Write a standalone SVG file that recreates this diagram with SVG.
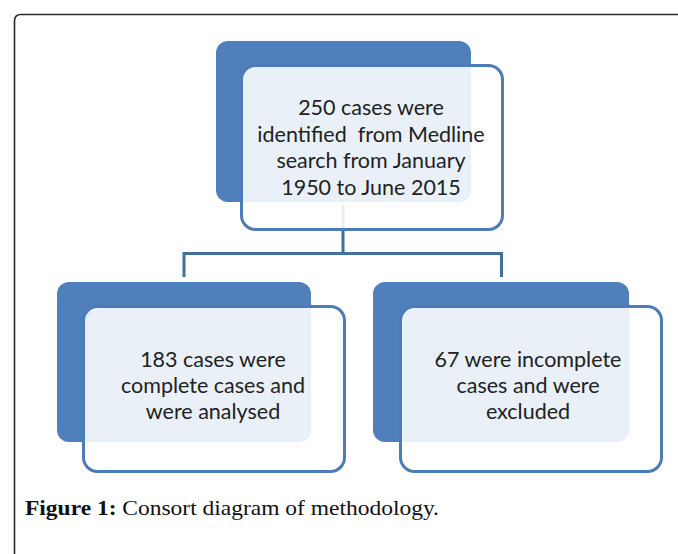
<svg xmlns="http://www.w3.org/2000/svg" width="678" height="554" viewBox="0 0 678 554">
<style>
.back{fill:#4f80bc;}
.front{fill:#ffffff;fill-opacity:0.88;stroke:#4d7bb6;stroke-width:3;}
.lbl{font-family:Lato,"Open Sans",sans-serif;font-size:21.5px;fill:#222;text-anchor:middle;}
.conn{fill:none;stroke:#41709f;stroke-width:3;}
.cap{font-family:"Liberation Serif",serif;font-size:22px;fill:#111;}
</style>
<rect x="0" y="0" width="678" height="554" fill="#fff"/>
<path d="M14.5 554 V21 Q14.5 14.5 21 14.5 H678" fill="none" stroke="#2a2a2a" stroke-width="1.6"/>
<g id="connectors">
<path class="conn" d="M343 205 V253.5 M184 277 V253.5 H501.5 V277"/>
</g>
<g id="node-top">
<rect class="back" x="216" y="41" width="255" height="161" rx="12"/>
<rect class="front" x="241.5" y="65.5" width="261" height="164" rx="14"/>
<text class="lbl" x="371" y="115">250 cases were</text>
<text class="lbl" x="371" y="142">identified&#160; from Medline</text>
<text class="lbl" x="371" y="168">search from January</text>
<text class="lbl" x="371" y="195">1950 to June 2015</text>
</g>
<g id="node-left">
<rect class="back" x="57" y="282" width="254" height="160" rx="12"/>
<rect class="front" x="83.5" y="306.5" width="261" height="165" rx="14"/>
<text class="lbl" x="213" y="367">183 cases were</text>
<text class="lbl" x="213" y="393">complete cases and</text>
<text class="lbl" x="213" y="419">were analysed</text>
</g>
<g id="node-right">
<rect class="back" x="373" y="282" width="256" height="160" rx="12"/>
<rect class="front" x="400.5" y="306.5" width="261" height="165" rx="14"/>
<text class="lbl" x="528" y="367">67 were incomplete</text>
<text class="lbl" x="528" y="393">cases and were</text>
<text class="lbl" x="528" y="419">excluded</text>
</g>
<text class="cap" x="25" y="515" textLength="414" lengthAdjust="spacingAndGlyphs"><tspan font-weight="bold">Figure 1:</tspan> Consort diagram of methodology.</text>
</svg>
